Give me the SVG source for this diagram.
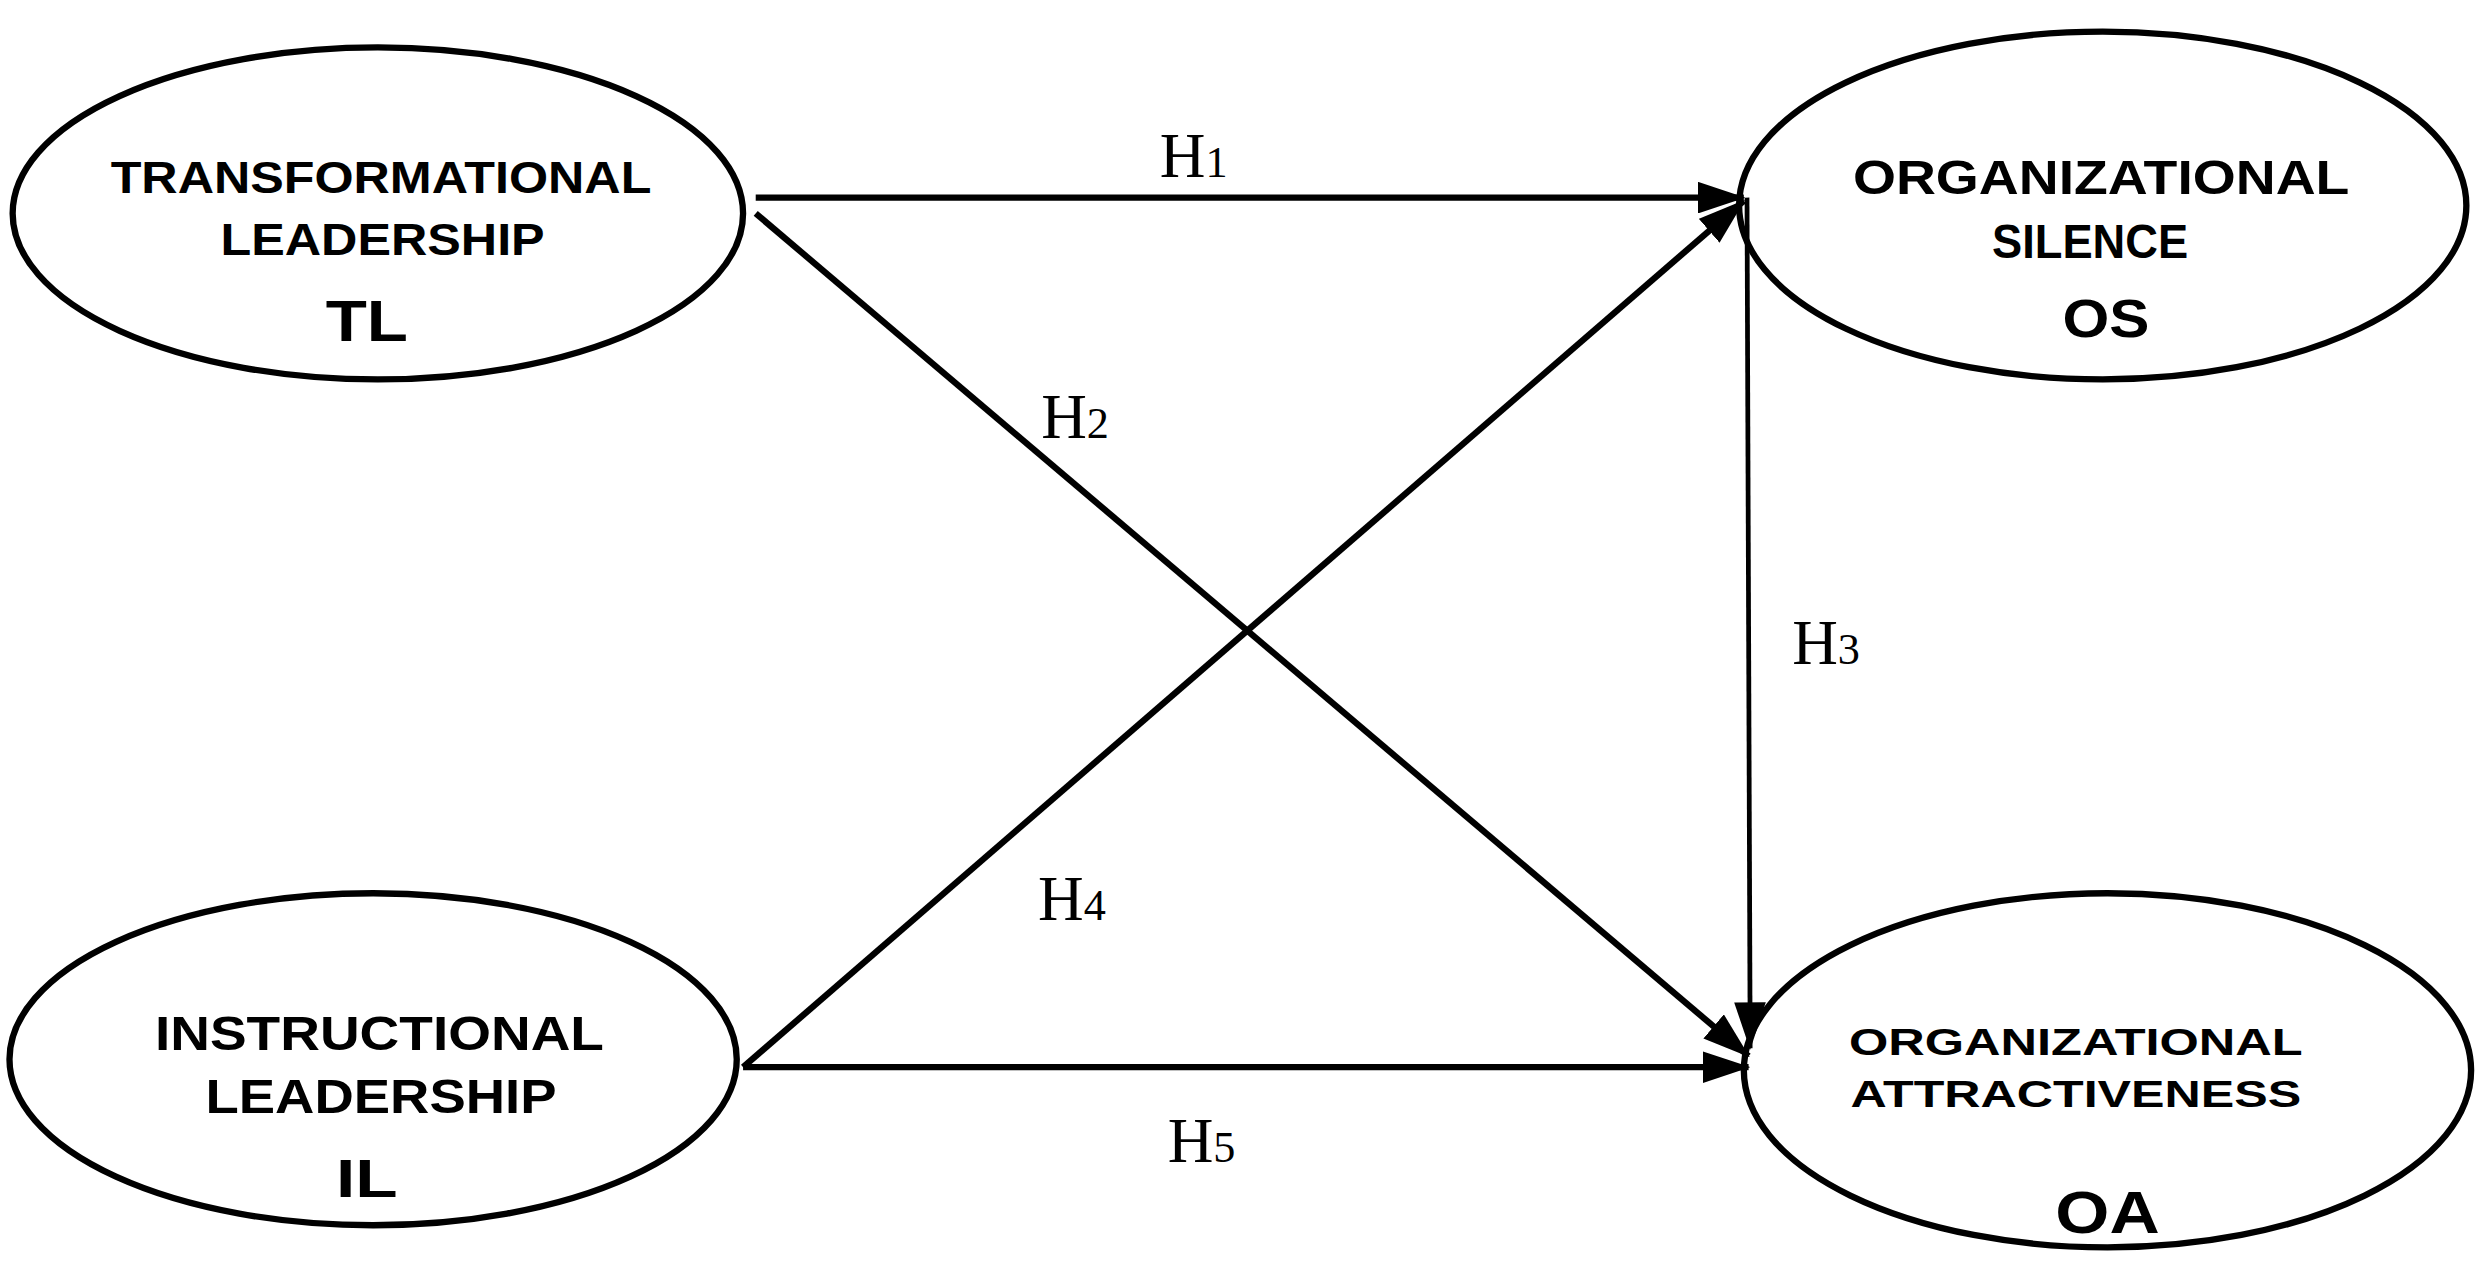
<svg xmlns="http://www.w3.org/2000/svg" width="2479" height="1277" viewBox="0 0 2479 1277">
<style>
.n{fill:#fff;stroke:#000;stroke-width:4}
.t{font-family:"Liberation Sans",Arial,sans-serif;font-weight:bold;fill:#000;text-anchor:middle}
.h{font-family:"Liberation Serif","Times New Roman",serif;font-size:40px;fill:#000;text-anchor:middle}
.c{stroke:#000;stroke-width:4;fill:none;marker-end:url(#a)}
</style>
<defs><marker id="a" markerWidth="30" markerHeight="20" refX="29" refY="10" orient="auto" markerUnits="userSpaceOnUse" viewBox="0 0 30 20"><path d="M0,0 L30,10 L0,20 z" fill="#000"/></marker></defs>
<rect width="2479" height="1277" fill="#fff"/>
<g transform="scale(1.581)">
<g id="TL"><ellipse class="n" cx="239" cy="135" rx="231" ry="105"/>
<text class="t" x="241" y="122" font-size="28" textLength="342" lengthAdjust="spacingAndGlyphs">TRANSFORMATIONAL</text>
<text class="t" x="242" y="161" font-size="28" textLength="205" lengthAdjust="spacingAndGlyphs">LEADERSHIP</text>
<text class="t" x="232" y="216" font-size="36" textLength="52" lengthAdjust="spacingAndGlyphs">TL</text></g>
<g id="OS"><ellipse class="n" cx="1330" cy="130" rx="230" ry="110"/>
<text class="t" x="1329" y="123" font-size="30" textLength="314" lengthAdjust="spacingAndGlyphs">ORGANIZATIONAL</text>
<text class="t" x="1322" y="163" font-size="30" textLength="124" lengthAdjust="spacingAndGlyphs">SILENCE</text>
<text class="t" x="1332" y="213" font-size="34" textLength="55" lengthAdjust="spacingAndGlyphs">OS</text></g>
<g id="IL"><ellipse class="n" cx="236" cy="670" rx="230" ry="105"/>
<text class="t" x="240" y="664" font-size="30" textLength="284" lengthAdjust="spacingAndGlyphs">INSTRUCTIONAL</text>
<text class="t" x="241" y="704" font-size="30" textLength="222" lengthAdjust="spacingAndGlyphs">LEADERSHIP</text>
<text class="t" x="232" y="757" font-size="34" textLength="39" lengthAdjust="spacingAndGlyphs">IL</text></g>
<g id="OA"><ellipse class="n" cx="1333" cy="677" rx="230" ry="112"/>
<text class="t" x="1313" y="667" font-size="23" textLength="287" lengthAdjust="spacingAndGlyphs">ORGANIZATIONAL</text>
<text class="t" x="1313" y="700" font-size="23" textLength="285" lengthAdjust="spacingAndGlyphs">ATTRACTIVENESS</text>
<text class="t" x="1333" y="780" font-size="38" textLength="66" lengthAdjust="spacingAndGlyphs">OA</text></g>
<g id="connectors">
<line class="c" x1="478" y1="125" x2="1103" y2="125"/>
<line class="c" x1="478" y1="135" x2="1106" y2="668"/>
<line class="c" x1="470" y1="675" x2="1103" y2="127"/>
<line class="c" x1="470" y1="675" x2="1106" y2="675"/>
<line class="c" x1="1105" y1="125" x2="1107" y2="663" style="stroke-width:3"/>
<text class="h" x="755" y="112">H<tspan font-size="28">1</tspan></text>
<text class="h" x="680" y="277">H<tspan font-size="28">2</tspan></text>
<text class="h" x="1155" y="420">H<tspan font-size="28">3</tspan></text>
<text class="h" x="678" y="582">H<tspan font-size="28">4</tspan></text>
<text class="h" x="760" y="735">H<tspan font-size="28">5</tspan></text>
</g>
</g>
</svg>
